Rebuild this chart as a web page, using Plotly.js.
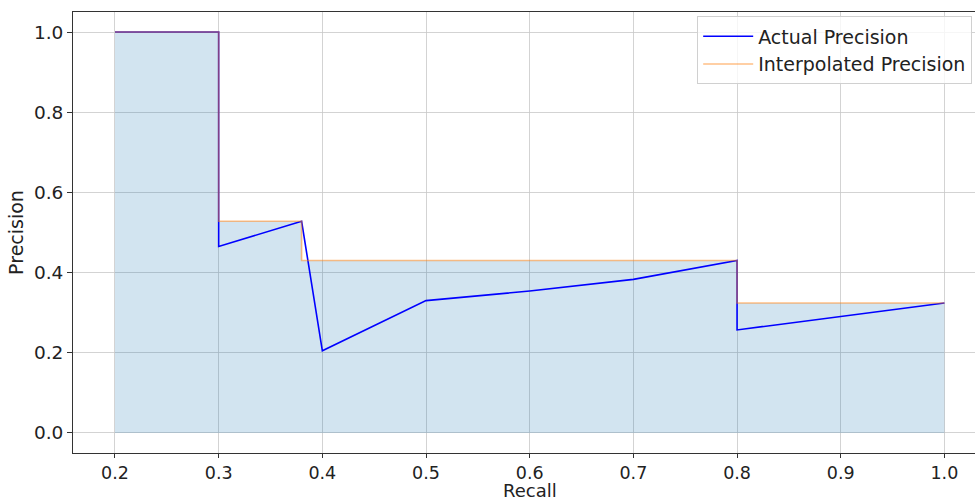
<!DOCTYPE html>
<html>
<head>
<meta charset="utf-8">
<script src="https://cdn.plot.ly/plotly-3.0.1.min.js"></script>
<style>html,body{margin:0;padding:0;background:#fff;}#chart{width:975px;height:501px;}</style>
</head>
<body>
<div id="chart"></div>
<script>
// Actual precision curve (recall, precision)
var actualRecall    = [0.2, 0.3, 0.3,   0.38,  0.4,   0.5,   0.6,   0.7,   0.8,   0.8,   1.0];
var actualPrecision = [1.0, 1.0, 0.465, 0.528, 0.205, 0.330, 0.354, 0.383, 0.430, 0.257, 0.324];
// Interpolated precision (step curve)
var interpRecall    = [0.2, 0.3, 0.3,   0.38,  0.38,  0.8,   0.8,   1.0];
var interpPrecision = [1.0, 1.0, 0.528, 0.528, 0.430, 0.430, 0.324, 0.324];
var xTicks = [0.2, 0.3, 0.4, 0.5, 0.6, 0.7, 0.8, 0.9, 1.0];
var yTicks = [0.0, 0.2, 0.4, 0.6, 0.8, 1.0];

var font = "DejaVu Sans, sans-serif";
var traces = [
  {x: interpRecall, y: interpPrecision, type: "scatter", mode: "lines", fill: "tozeroy",
   fillcolor: "rgba(31,119,180,0.2)", line: {width: 0}, showlegend: false, hoverinfo: "skip"},
  {x: actualRecall, y: actualPrecision, type: "scatter", mode: "lines", name: "Actual Precision",
   legendgroup: "a", line: {color: "#0000ff", width: 1.6}},
  {x: interpRecall, y: interpPrecision, type: "scatter", mode: "lines", name: "Interpolated Precision",
   legendgroup: "b", line: {color: "rgba(255,127,14,0.5)", width: 1.6}}
];
var layout = {
  width: 975, height: 501,
  margin: {l: 73, r: 0, t: 12, b: 48},
  paper_bgcolor: "#fff", plot_bgcolor: "#fff",
  font: {family: font, size: 19, color: "#222"},
  showlegend: true,
  legend: {x: 0.692, y: 0.99, xanchor: "left", yanchor: "top",
           traceorder: "grouped", tracegroupgap: 0, itemwidth: 50,
           bgcolor: "rgba(255,255,255,0.8)", bordercolor: "#d0d0d0", borderwidth: 1,
           font: {family: font, size: 19, color: "#222"}},
  xaxis: {range: [0.1595, 1.0295], tickvals: xTicks, ticktext: xTicks.map(function(v){return v.toFixed(1);}),
          showgrid: true, gridcolor: "#c8c8c8", gridwidth: 0.8, zeroline: false,
          showline: true, linecolor: "#333", linewidth: 1, mirror: true,
          ticks: "outside", ticklen: 4, tickcolor: "#333", tickfont: {size: 17.5}},
  yaxis: {range: [-0.05, 1.05], tickvals: yTicks, ticktext: yTicks.map(function(v){return v.toFixed(1);}),
          showgrid: true, gridcolor: "#c8c8c8", gridwidth: 0.8, zeroline: false,
          showline: true, linecolor: "#333", linewidth: 1,
          ticks: "outside", ticklen: 5, tickcolor: "#333", tickfont: {size: 18.5},
          title: {text: "Precision", font: {family: font, size: 19, color: "#222"}, standoff: 5}},
  annotations: [
    {text: "Recall", xref: "paper", yref: "paper", x: 0.5066, y: -0.1088,
     xanchor: "center", yanchor: "bottom", yshift: -2, showarrow: false,
     font: {family: font, size: 18, color: "#222"}}
  ]
};
Plotly.newPlot("chart", traces, layout, {staticPlot: true});
</script>
</body>
</html>
